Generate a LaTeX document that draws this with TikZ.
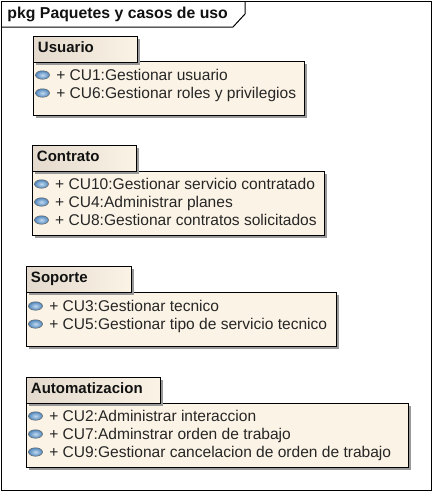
\documentclass[tikz,border=0pt]{standalone}
\usepackage{fontspec}
\setmainfont{Liberation Sans}
\usetikzlibrary{positioning,shadows,shapes.geometric}
\definecolor{pkgfill}{HTML}{FBF3E5}
\definecolor{pkgdark}{HTML}{E3DACD}
\definecolor{pkgtext}{HTML}{111111}
\definecolor{balllight}{HTML}{C2DAF0}
\definecolor{balldark}{HTML}{4F86BC}
\tikzset{
  pkgshadow/.style={drop shadow={shadow xshift=2.5pt, shadow yshift=-2.5pt, fill=black!40, opacity=1}},
  pkgtab/.style={draw, pkgshadow, left color=pkgdark, right color=pkgfill, minimum height=26pt, inner sep=0pt, anchor=north west,
    text=pkgtext, font=\fontsize{15}{16}\selectfont\bfseries, align=left, text height=11pt, text depth=5pt},
  pkgbody/.style={draw, fill=pkgfill, pkgshadow, inner sep=0pt, anchor=north west},
  ucball/.style={draw=black!60, ellipse, inner color=balllight, outer color=balldark, minimum width=14pt, minimum height=8.5pt, inner sep=0pt, line width=.5pt},
  ucrow/.style={anchor=west, inner sep=0pt, text=black!85, font=\fontsize{15.55}{16}\selectfont, text height=11pt, text depth=1pt},
}
\begin{document}
\begin{tikzpicture}[x=1pt, y=-1pt, line width=1pt]
  \useasboundingbox (0,0) rectangle (432,491);
  \fill[white] (0,0) rectangle (432,491);
  \draw (1,1) rectangle (431,490);
  \node[anchor=base west, inner sep=0pt, font=\fontsize{15.8}{16}\selectfont\bfseries, text=pkgtext] (title) at (7,18) {pkg Paquetes y casos de uso};
  \draw (1,27) -- (233,27) -- (245,14) -- (245,1);

  % Usuario
  \node[pkgbody, minimum width=271pt, minimum height=54pt] (usuarioBody) at (33,61) {};
  \node[pkgtab, minimum width=104pt, text width=98pt] (usuarioTab) at (33,36) {\hspace*{1.5pt}Usuario};
  \foreach \n/\y/\t in {1/75/CU1:Gestionar usuario, 2/93/CU6:Gestionar roles y privilegios} {
    \node[ucball] (usuarioBall\n) at (42.5,\y) {};
    \node[ucrow, right=6pt of usuarioBall\n] (usuarioRow\n) {+ \t};
  }

  % Contrato
  \node[pkgbody, minimum width=292pt, minimum height=64pt] (contratoBody) at (32,171) {};
  \node[pkgtab, minimum width=104pt, text width=98pt] (contratoTab) at (32,145) {\hspace*{1.5pt}Contrato};
  \foreach \n/\y/\t in {1/184/CU10:Gestionar servicio contratado, 2/202/CU4:Administrar planes, 3/220/CU8:Gestionar contratos solicitados} {
    \node[ucball] (contratoBall\n) at (41.5,\y) {};
    \node[ucrow, right=6pt of contratoBall\n] (contratoRow\n) {+ \t};
  }

  % Soporte
  \node[pkgbody, minimum width=310pt, minimum height=54pt] (soporteBody) at (26,292) {};
  \node[pkgtab, minimum width=105pt, text width=99pt] (soporteTab) at (26,266) {\hspace*{1.5pt}Soporte};
  \foreach \n/\y/\t in {1/306/CU3:Gestionar tecnico, 2/324/CU5:Gestionar tipo de servicio tecnico} {
    \node[ucball] (soporteBall\n) at (35.5,\y) {};
    \node[ucrow, right=6pt of soporteBall\n] (soporteRow\n) {+ \t};
  }

  % Automatizacion
  \node[pkgbody, minimum width=382pt, minimum height=64pt] (autoBody) at (26,403) {};
  \node[pkgtab, minimum width=134pt, text width=128pt] (autoTab) at (26,377) {\hspace*{1.5pt}Automatizacion};
  \foreach \n/\y/\t in {1/416/CU2:Administrar interaccion, 2/434/CU7:Adminstrar orden de trabajo, 3/452/CU9:Gestionar cancelacion de orden de trabajo} {
    \node[ucball] (autoBall\n) at (35.5,\y) {};
    \node[ucrow, right=6pt of autoBall\n] (autoRow\n) {+ \t};
  }
\end{tikzpicture}
\end{document}
